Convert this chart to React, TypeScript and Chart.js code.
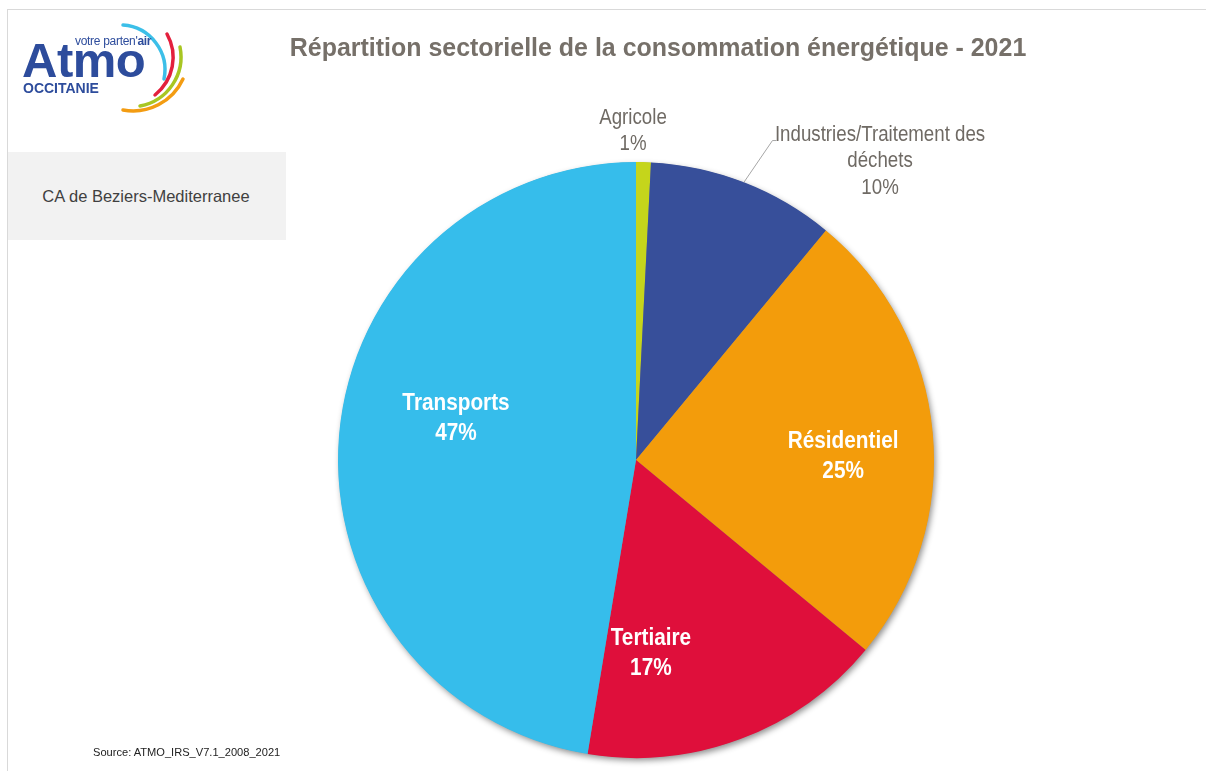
import React, { useEffect, useRef } from "react";
import { Chart, registerables } from "chart.js";

Chart.register(...registerables);

// ---- data ----
const categories = ["Agricole", "Industries/Traitement des déchets", "Résidentiel", "Tertiaire", "Transports"];
const labelLines = [["Agricole"], ["Industries/Traitement des", "déchets"], ["Résidentiel"], ["Tertiaire"], ["Transports"]];
const values = [0.8, 10.2, 25.0, 16.6, 47.4];
const percentLabels = ["1%", "10%", "25%", "17%", "47%"];
const colors = ["#c5d51b", "#374f9a", "#f39c0b", "#df0f3b", "#36bdeb"];

const chartTitle = "Répartition sectorielle de la consommation énergétique - 2021";
const territory = "CA de Beziers-Mediterranee";
const sourceText = "Source: ATMO_IRS_V7.1_2008_2021";

const SANS = "'Liberation Sans', Arial, sans-serif";

// label placement (in units of the pie radius, relative to its centre)
const labelPlacement = [
  { dx: -0.01, dy: -1.104, inside: false },
  { dx: 0.819, dy: -1.003, inside: false },
  { dx: 0.695, dy: -0.012, inside: true },
  { dx: 0.05, dy: 0.65, inside: true },
  { dx: -0.604, dy: -0.141, inside: true },
];

const shadowPlugin = {
  id: "pieShadow",
  beforeDatasetsDraw(chart: any) {
    const arc = chart.getDatasetMeta(0).data[0];
    if (!arc) return;
    const { x, y, outerRadius } = arc.getProps(["x", "y", "outerRadius"], true);
    const ctx = chart.ctx;
    ctx.save();
    ctx.shadowColor = "rgba(0,0,0,0.45)";
    ctx.shadowBlur = 6;
    ctx.shadowOffsetX = 2;
    ctx.shadowOffsetY = 3;
    ctx.fillStyle = "#888";
    ctx.beginPath();
    ctx.arc(x, y, outerRadius - 0.5, 0, Math.PI * 2);
    ctx.fill();
    ctx.restore();
  },
};

const labelPlugin = {
  id: "sliceLabels",
  afterDatasetsDraw(chart: any) {
    const meta = chart.getDatasetMeta(0);
    const ctx = chart.ctx;
    meta.data.forEach((arc: any, i: number) => {
      const { x, y, outerRadius, startAngle, endAngle } = arc.getProps(
        ["x", "y", "outerRadius", "startAngle", "endAngle"],
        true
      );
      const p = labelPlacement[i];
      const lx = x + p.dx * outerRadius;
      const ly = y + p.dy * outerRadius;
      const lines = [...labelLines[i], percentLabels[i]];
      ctx.save();
      ctx.textAlign = "center";
      ctx.textBaseline = "middle";
      if (p.inside) {
        ctx.fillStyle = "#ffffff";
        ctx.font = `bold 24px ${SANS}`;
        const lh = 30;
        const y0 = ly - ((lines.length - 1) * lh) / 2;
        ctx.save();
        ctx.translate(lx, 0);
        ctx.scale(0.865, 1);
        lines.forEach((t, k) => ctx.fillText(t, 0, y0 + k * lh));
        ctx.restore();
      } else {
        ctx.fillStyle = "#6f6a64";
        ctx.font = `22px ${SANS}`;
        const lh = 26.5;
        const y0 = ly - ((lines.length - 1) * lh) / 2;
        ctx.save();
        ctx.translate(lx, 0);
        ctx.scale(0.85, 1);
        lines.forEach((t, k) => ctx.fillText(t, 0, y0 + k * lh));
        ctx.restore();
        if (lines.length > 2) {
          // leader line from label to the arc's mid point on the rim
          const mid = (startAngle + endAngle) / 2;
          const ex = x + Math.cos(mid) * outerRadius;
          const ey = y + Math.sin(mid) * outerRadius;
          const sx = x + 0.458 * outerRadius;
          const sy = y - 1.072 * outerRadius;
          ctx.strokeStyle = "#a6a6a6";
          ctx.lineWidth = 1;
          ctx.beginPath();
          ctx.moveTo(sx + 4, sy);
          ctx.lineTo(sx, sy);
          ctx.lineTo(ex, ey);
          ctx.stroke();
        }
      }
      ctx.restore();
    });
  },
};

function Txt(props: {
  x: number;
  base: number;
  size: number;
  children: any;
  bold?: boolean;
  color?: string;
  center?: boolean;
  spacing?: number;
  sx?: number;
}) {
  const { x, base, size, bold, color, center, spacing, sx } = props;
  const tf: string[] = [];
  if (center) tf.push("translateX(-50%)");
  if (sx) tf.push(`scaleX(${sx})`);
  return (
    <div
      style={{
        position: "absolute",
        left: x,
        top: base - 0.8465 * size,
        fontSize: size,
        lineHeight: `${size}px`,
        fontWeight: bold ? 700 : 400,
        color: color || "#000",
        fontFamily: SANS,
        whiteSpace: "nowrap",
        letterSpacing: spacing || 0,
        transform: tf.length ? tf.join(" ") : undefined,
        transformOrigin: center ? "50% 50%" : "0 50%",
      }}
    >
      {props.children}
    </div>
  );
}

export default function App() {
  const ref = useRef<HTMLCanvasElement>(null);

  useEffect(() => {
    const canvas = ref.current;
    if (!canvas) return;
    const chart = new Chart(canvas, {
      type: "pie",
      data: {
        labels: categories,
        datasets: [
          {
            data: values,
            backgroundColor: colors,
            borderWidth: 0,
          },
        ],
      },
      options: {
        responsive: false,
        animation: false,
        layout: { padding: { left: 338, right: 272, top: 162, bottom: 13 } },
        plugins: {
          legend: { display: false },
          tooltip: { enabled: false },
          title: { display: false },
        },
      },
      plugins: [shadowPlugin, labelPlugin],
    });
    return () => chart.destroy();
  }, []);

  const blue = "#2d4c9c";

  return (
    <div
      style={{
        position: "absolute",
        left: 0,
        top: 0,
        width: 1206,
        height: 771,
        overflow: "hidden",
        background: "#fff",
      }}
    >
      {/* frame */}
      <div style={{ position: "absolute", left: 7, top: 9, width: 1199, height: 1, background: "#d9d9d9" }} />
      <div style={{ position: "absolute", left: 7, top: 9, width: 1, height: 762, background: "#d9d9d9" }} />

      <canvas
        ref={ref}
        width={1206}
        height={771}
        style={{ position: "absolute", left: 0, top: 0, width: 1206, height: 771 }}
      />

      {/* logo */}
      <svg
        width={200}
        height={120}
        style={{ position: "absolute", left: 0, top: 0 }}
        fill="none"
        strokeLinecap="round"
        strokeWidth={3.5}
      >
        <path d="M 123 25 A 45 45 0 0 1 164 79" stroke="#3cbfe8" />
        <path d="M 167 34 A 48 48 0 0 1 155 95" stroke="#e3203d" />
        <path d="M 180 47 A 50 50 0 0 1 140 106" stroke="#a8c622" />
        <path d="M 183 79 A 55 55 0 0 1 123 110" stroke="#f39c12" />
      </svg>
      <Txt x={22} base={77} size={49} bold color={blue} spacing={-0.5}>
        Atmo
      </Txt>
      <Txt x={75} base={45} size={12} color={blue} spacing={-0.3}>
        votre parten'<b>air</b>
      </Txt>
      <Txt x={23} base={93} size={14} bold color={blue}>
        OCCITANIE
      </Txt>

      {/* title */}
      <Txt x={658} base={56} size={26} bold color="#767069" center sx={0.96}>
        {chartTitle}
      </Txt>

      {/* territory box */}
      <div
        style={{
          position: "absolute",
          left: 8,
          top: 152,
          width: 278,
          height: 88,
          background: "#f2f2f2",
        }}
      />
      <Txt x={146} base={202} size={16.5} color="#404040" center>
        {territory}
      </Txt>

      {/* source */}
      <Txt x={93} base={756} size={11.1} color="#222">
        {sourceText}
      </Txt>
    </div>
  );
}
